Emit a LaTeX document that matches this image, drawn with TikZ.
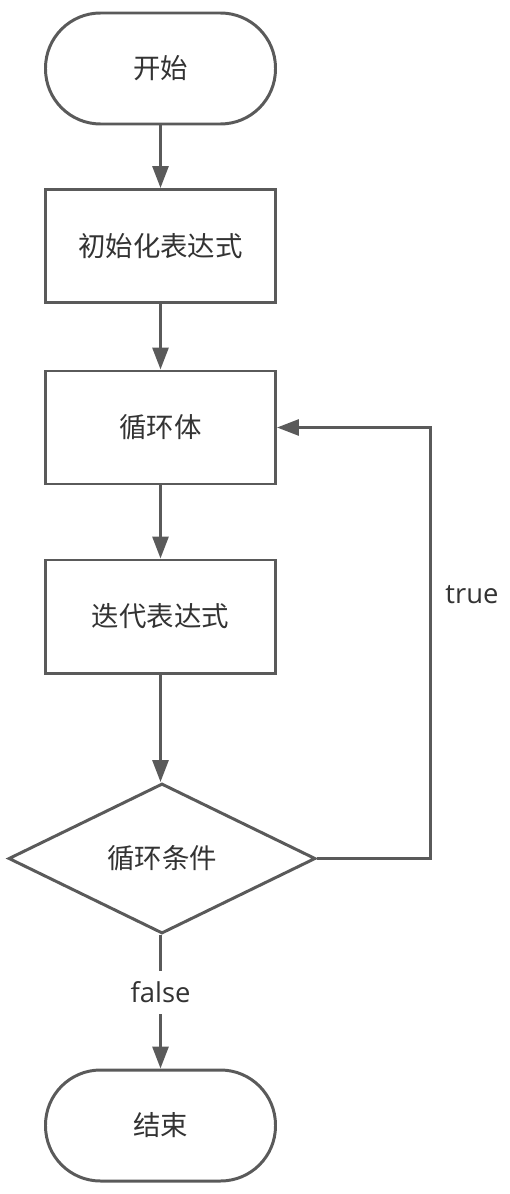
\documentclass[tikz,border=0pt]{standalone}
\usepackage{fontspec}
\setmainfont{Open Sans}
\newfontfamily\cjk{Noto Sans CJK SC}
\usetikzlibrary{arrows.meta,positioning,shapes.geometric}
\definecolor{lineGray}{HTML}{5A5A5A}
\definecolor{textDark}{HTML}{333333}

\begin{document}
\begin{tikzpicture}[
  font=\cjk\fontsize{15.6}{18}\selectfont,text=textDark,>={Triangle[length=4.4mm,width=3.2mm]},
  terminal/.style={rectangle,rounded corners=1.1cm,draw=lineGray,line width=1.7pt,fill=white,minimum width=4.6cm,minimum height=2.22cm,align=center},
  process/.style={rectangle,draw=lineGray,line width=1.7pt,fill=white,minimum width=4.6cm,minimum height=2.26cm,align=center},
  decision/.style={diamond,draw=lineGray,line width=1.7pt,fill=white,inner sep=0pt,minimum width=6.14cm,minimum height=3.0cm,align=center},
  edge/.style={->,line width=1.7pt,draw=lineGray},
  edgelabel/.style={font=\fontsize{15.6}{18}\selectfont,fill=white,inner xsep=2pt,inner ysep=6pt}
]
\useasboundingbox (0,0) rectangle (10.18,-23.88);
% Main column top to bottom, the true branch loops back on the right.
\node[terminal] (start) at (3.21,-1.37) {开始};
\node[process] (init) at (3.21,-4.92) {初始化表达式};
\node[process] (body) at (3.21,-8.55) {循环体};
\node[process] (iter) at (3.21,-12.33) {迭代表达式};
\node[decision] (cond) at (3.24,-17.17) {循环条件};
\node[terminal] (stop) at (3.21,-22.51) {结束};
\coordinate (looptop) at (8.6,-8.55);
\draw[edge] (start.south) -- (init.north);
\draw[edge] (init.south) -- (body.north);
\draw[edge] (body.south) -- (iter.north);
\draw[edge] (iter.south) -- (cond.north -| iter.south);
\draw[edge] (cond.south -| stop.north) -- node[edgelabel,pos=0.43] {false} (stop.north);
\draw[edge] (cond.east) -| (looptop) -- (body.east);
\node[font=\fontsize{15.6}{18}\selectfont] (truelabel) at (9.44,-11.9) {true};
\end{tikzpicture}
\end{document}
